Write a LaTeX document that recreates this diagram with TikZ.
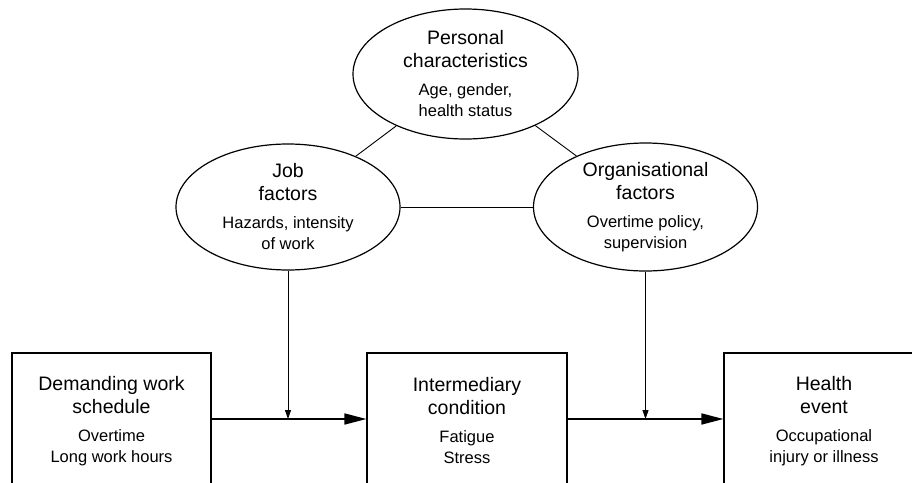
\documentclass[tikz,border=0pt]{standalone}
\usepackage{fontspec}
\setmainfont{Liberation Sans}
\usetikzlibrary{shapes.geometric,arrows.meta}
\newcommand\tfont{\fontsize{19.5pt}{21pt}\selectfont}
\newcommand\ntext[4]{{\tfont #1}\\[2pt]{\tfont #2}\\[7pt]#3\\#4}
\tikzset{
  oval/.style={ellipse,draw,line width=1.2pt,inner sep=0pt,align=center,font=\fontsize{16.5pt}{21pt}\selectfont},
  stagebox/.style={rectangle,draw,line width=1.2pt,minimum width=200pt,minimum height=136pt,inner sep=0pt,align=center,font=\fontsize{16.5pt}{21pt}\selectfont},
  link/.style={line width=0.9pt},
  mainarrow/.style={line width=1.6pt,-{Triangle[length=22pt,width=11pt]}},
  modarrow/.style={line width=0.9pt,-{Triangle[length=9pt,width=6pt]}}
}
\begin{document}
\begin{tikzpicture}[x=1pt,y=-1pt]
\clip (0,0) rectangle (912,482);
\fill[white] (0,0) rectangle (912,482);
\node[oval,minimum width=225pt,minimum height=130pt] (pers) at (465.5,74) {\ntext{Personal}{characteristics}{Age, gender,}{health status}};
\node[oval,minimum width=224pt,minimum height=126pt] (job) at (288,207) {\ntext{Job}{factors}{Hazards, intensity}{of work}};
\node[oval,minimum width=224pt,minimum height=128pt] (org) at (645.5,207) {\ntext{Organisational}{factors}{Overtime policy,}{supervision}};
\node[stagebox,minimum width=199pt] (dem) at (111.5,421) {\ntext{Demanding work}{schedule}{Overtime}{Long work hours}};
\node[stagebox] (inter) at (467,421) {\ntext{Intermediary}{condition}{Fatigue}{Stress}};
\node[stagebox] (health) at (824,421) {\ntext{Health}{event}{Occupational}{injury or illness}};
\draw[link] (pers) -- (job);
\draw[link] (pers) -- (org);
\draw[link] (job) -- (org);
\coordinate (a1) at ([yshift=2pt]dem.east);
\coordinate (a2) at ([yshift=2pt]inter.east);
\draw[mainarrow] (a1) -- ([yshift=2pt]inter.west);
\draw[mainarrow] (a2) -- ([yshift=2pt]health.west);
\draw[modarrow] (job.south) -- (a1 -| job.south);
\draw[modarrow] (org.south) -- (a2 -| org.south);
\end{tikzpicture}
\end{document}
